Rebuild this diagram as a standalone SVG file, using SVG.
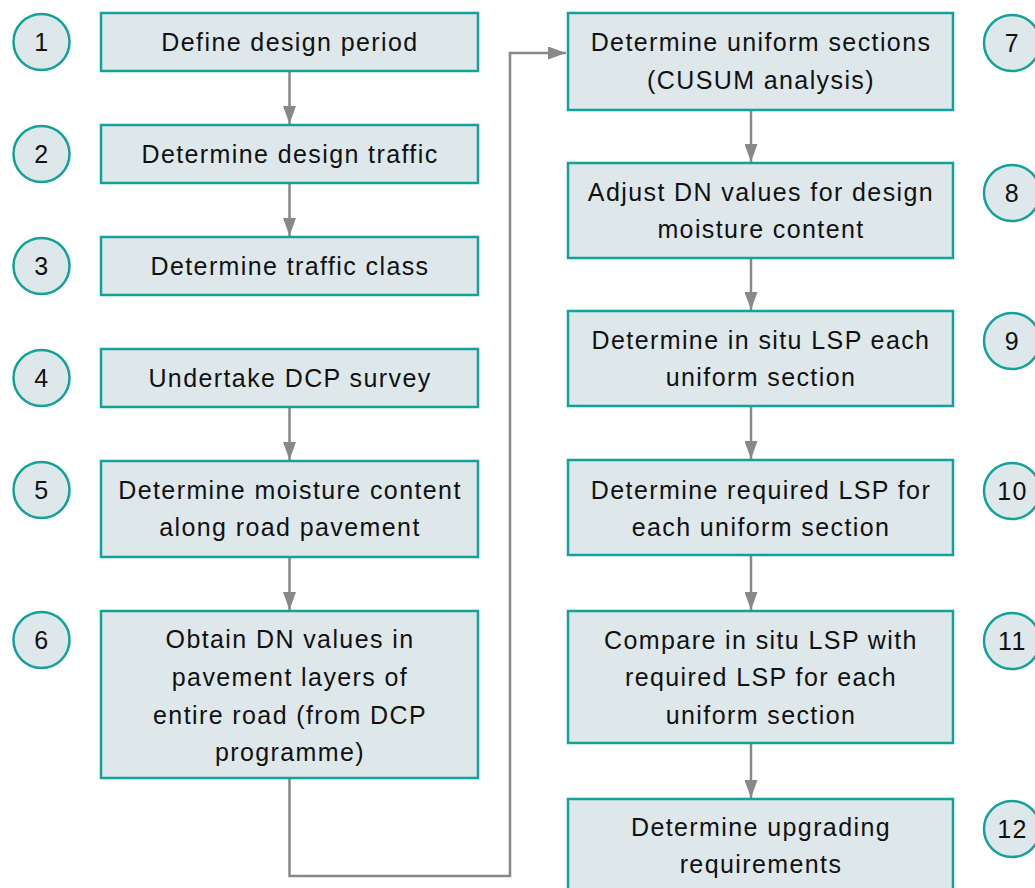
<svg xmlns="http://www.w3.org/2000/svg" width="1035" height="888" viewBox="0 0 1035 888">
<defs>
<marker id="ah" markerUnits="userSpaceOnUse" markerWidth="18" markerHeight="13" refX="18" refY="6.5" orient="auto">
<path d="M0,0 L18,6.5 L0,13 Z" fill="#87888b"/>
</marker>
</defs>
<style>
.box{fill:#dee8ea;stroke:#12a29b;stroke-width:2.5}
.num{fill:#dee8ea;stroke:#12a29b;stroke-width:2.5}
.t{font-family:"Liberation Sans",Arial,sans-serif;font-size:25px;letter-spacing:1.4px;fill:#111;text-anchor:middle}
.c{fill:none;stroke:#87888b;stroke-width:2.5;marker-end:url(#ah)}
</style>
<rect width="1035" height="888" fill="#fff"/>
<g id="connectors">
<path class="c" d="M289.5,71 V124"/>
<path class="c" d="M289.5,183 V236"/>
<path class="c" d="M289.5,407 V460"/>
<path class="c" d="M289.5,557 V610"/>
<path class="c" d="M289.5,778 V876 H510 V53 H566"/>
<path class="c" d="M751,110 V162"/>
<path class="c" d="M751,258 V310"/>
<path class="c" d="M751,406 V459"/>
<path class="c" d="M751,555 V610"/>
<path class="c" d="M751,743 V798"/>
</g>
<g id="n1"><circle class="num" cx="41.5" cy="42" r="28"/><text class="t" x="42" y="51">1</text>
<rect class="box" x="101" y="13" width="377" height="58"/><text class="t" x="290" y="51">Define design period</text></g>
<g id="n2"><circle class="num" cx="41.5" cy="154" r="28"/><text class="t" x="42" y="163">2</text>
<rect class="box" x="101" y="125" width="377" height="58"/><text class="t" x="290" y="163">Determine design traffic</text></g>
<g id="n3"><circle class="num" cx="41.5" cy="266" r="28"/><text class="t" x="42" y="275">3</text>
<rect class="box" x="101" y="237" width="377" height="58"/><text class="t" x="290" y="275">Determine traffic class</text></g>
<g id="n4"><circle class="num" cx="41.5" cy="378" r="28"/><text class="t" x="42" y="387">4</text>
<rect class="box" x="101" y="349" width="377" height="58"/><text class="t" x="290" y="387">Undertake DCP survey</text></g>
<g id="n5"><circle class="num" cx="41.5" cy="490" r="28"/><text class="t" x="42" y="499">5</text>
<rect class="box" x="101" y="461" width="377" height="96"/><text class="t" x="290" y="499">Determine moisture content</text><text class="t" x="290" y="536">along road pavement</text></g>
<g id="n6"><circle class="num" cx="41.5" cy="640" r="28"/><text class="t" x="42" y="649">6</text>
<rect class="box" x="101" y="611" width="377" height="167"/><text class="t" x="290" y="648">Obtain DN values in</text><text class="t" x="290" y="685.5">pavement layers of</text><text class="t" x="290" y="723.5">entire road (from DCP</text><text class="t" x="290" y="761">programme)</text></g>
<g id="n7"><rect class="box" x="568" y="13" width="385" height="97"/><text class="t" x="761" y="51">Determine uniform sections</text><text class="t" x="761" y="88.5">(CUSUM analysis)</text>
<circle class="num" cx="1012" cy="43" r="28"/><text class="t" x="1012.5" y="52">7</text></g>
<g id="n8"><rect class="box" x="568" y="163" width="385" height="95"/><text class="t" x="761" y="201">Adjust DN values for design</text><text class="t" x="761" y="238">moisture content</text>
<circle class="num" cx="1012" cy="193" r="28"/><text class="t" x="1012.5" y="202">8</text></g>
<g id="n9"><rect class="box" x="568" y="311" width="385" height="95"/><text class="t" x="761" y="349">Determine in situ LSP each</text><text class="t" x="761" y="386">uniform section</text>
<circle class="num" cx="1012" cy="341" r="28"/><text class="t" x="1012.5" y="350">9</text></g>
<g id="n10"><rect class="box" x="568" y="460" width="385" height="95"/><text class="t" x="761" y="499">Determine required LSP for</text><text class="t" x="761" y="536">each uniform section</text>
<circle class="num" cx="1012" cy="491" r="28"/><text class="t" x="1012.5" y="500">10</text></g>
<g id="n11"><rect class="box" x="568" y="611" width="385" height="132"/><text class="t" x="761" y="649">Compare in situ LSP with</text><text class="t" x="761" y="686">required LSP for each</text><text class="t" x="761" y="723.5">uniform section</text>
<circle class="num" cx="1012" cy="641" r="28"/><text class="t" x="1012.5" y="650">11</text></g>
<g id="n12"><rect class="box" x="568" y="799" width="385" height="100"/><text class="t" x="761" y="836">Determine upgrading</text><text class="t" x="761" y="873">requirements</text>
<circle class="num" cx="1012" cy="829" r="28"/><text class="t" x="1012.5" y="838">12</text></g>
</svg>
